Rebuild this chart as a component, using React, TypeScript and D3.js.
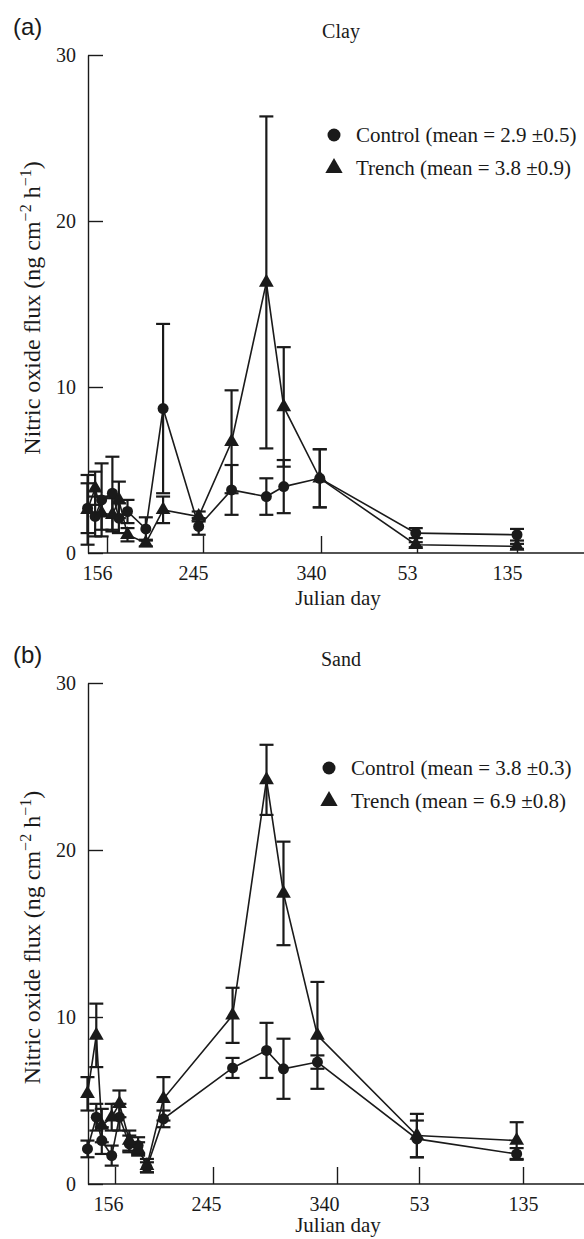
import React, { useRef, useEffect } from "react";
import * as d3 from "d3";

// julian days on the x axis, 53 and 135 are in the following year (418, 500)
const tickDays = [156, 245, 340, 418, 500];
const tickLabels = ["156", "245", "340", "53", "135"];
const yTicks = [0, 10, 20, 30];

const clayDays = [138, 145, 151, 161, 167, 175, 192, 208, 241, 268, 296, 310, 339, 417, 500];
const clayControl = [2.7, 2.2, 3.2, 3.6, 2.1, 2.5, 1.45, 8.7, 1.6, 3.8, 3.4, 4.0, 4.5, 1.2, 1.1];
const clayControlErr = [1.5, 1.2, 2.2, 2.2, 0.9, 0.7, 0.7, 5.1, 0.5, 1.5, 1.1, 1.6, 1.75, 0.3, 0.35];
const clayTrench = [2.6, 3.9, 2.4, 2.3, 3.2, 1.1, 0.6, 2.6, 2.2, 6.7, 16.3, 8.8, 4.5, 0.5, 0.4];
const clayTrenchErr = [2.1, 1.0, 1.0, 1.0, 1.1, 0.4, 0.2, 0.8, 0.3, 3.1, 10.0, 3.6, 1.75, 0.15, 0.15];

const sandDays = [131, 139, 144, 153, 160, 169, 177, 185, 200, 260, 286, 299, 325, 416, 495];
const sandControl = [2.1, 4.0, 2.6, 1.7, 4.0, 2.4, 2.3, 1.0, 3.9, 6.95, 8.0, 6.9, 7.3, 2.7, 1.8];
const sandControlErr = [0.5, 0.8, 0.8, 0.6, 0.8, 0.5, 0.5, 0.3, 0.5, 0.6, 1.65, 1.8, 0.4, 1.1, 0.35];
const sandTrench = [5.4, 8.9, 3.5, 4.0, 4.8, 2.6, 2.1, 1.1, 5.1, 10.1, 24.2, 17.4, 8.9, 2.9, 2.6];
const sandTrenchErr = [1.0, 1.9, 1.0, 0.8, 0.8, 0.6, 0.4, 0.4, 1.3, 1.65, 2.1, 3.1, 3.2, 1.3, 1.1];

const clayLegend = ["Control (mean = 2.9 \u00b10.5)", "Trench (mean = 3.8 \u00b10.9)"];
const sandLegend = ["Control (mean = 3.8 \u00b10.3)", "Trench (mean = 6.9 \u00b10.8)"];

const W = 584;
const H = 1239;
const INK = "#1a1a1a";
const SERIF = "Liberation Serif, Times New Roman, Times, serif";
const SANS = "Liberation Sans, Arial, Helvetica, sans-serif";

const panels = [
  {
    letter: "(a)",
    title: "Clay",
    top: 55,
    bottom: 553,
    tickPx: [107, 203, 321, 417, 517],
    labelDx: [-10, -10, -10, -10, -10],
    legendY: 135,
    legendX: 334,
    days: clayDays,
    control: clayControl,
    controlErr: clayControlErr,
    trench: clayTrench,
    trenchErr: clayTrenchErr,
    legend: clayLegend,
  },
  {
    letter: "(b)",
    title: "Sand",
    top: 683,
    bottom: 1184,
    tickPx: [115, 213, 337, 419, 523],
    labelDx: [-7, -7, -13, 0, 0],
    legendY: 768,
    legendX: 329,
    days: sandDays,
    control: sandControl,
    controlErr: sandControlErr,
    trench: sandTrench,
    trenchErr: sandTrenchErr,
    legend: sandLegend,
  },
];

const left = 88;

const App = () => {
  const svgRef = useRef<SVGSVGElement>(null);

  useEffect(() => {
    const svg = d3.select(svgRef.current);
    svg.selectAll("*").remove();

    panels.forEach((p, pi) => {
      const g = svg.append("g");
      const x = d3.scaleLinear().domain(tickDays).range(p.tickPx);
      const y = d3.scaleLinear().domain([0, 30]).range([p.bottom, p.top]);

      // panel letter + title
      g.append("text")
        .attr("x", 13)
        .attr("y", p.top - 20)
        .style("font-family", SANS)
        .style("font-size", "24px")
        .attr("fill", INK)
        .text(p.letter);
      g.append("text")
        .attr("x", 341)
        .attr("y", p.top - 17)
        .attr("text-anchor", "middle")
        .style("font-family", SERIF)
        .style("font-size", "20px")
        .attr("fill", INK)
        .text(p.title);

      // y axis
      const yAxis = g
        .append("g")
        .attr("transform", `translate(${left},0)`)
        .call(d3.axisLeft(y).tickValues(yTicks).tickSize(-15).tickSizeOuter(0).tickPadding(12));
      yAxis.attr("color", INK);
      yAxis.selectAll("text").style("font-family", SERIF).style("font-size", "20px");
      yAxis.selectAll("line, path").attr("stroke-width", 1.4);

      // x axis
      const xAxis = g
        .append("g")
        .attr("transform", `translate(0,${p.bottom})`)
        .call(
          d3
            .axisBottom(x)
            .tickValues(tickDays)
            .tickFormat((d, i) => tickLabels[i])
            .tickSize(-17)
            .tickPadding(13)
        );
      xAxis.attr("color", INK);
      xAxis.select(".domain").remove();
      xAxis.selectAll("line").attr("stroke-width", 1.4);
      xAxis
        .selectAll(".tick text")
        .style("font-family", SERIF)
        .style("font-size", "20px")
        .attr("dx", (d, i) => p.labelDx[i]);
      g.append("line")
        .attr("x1", left)
        .attr("x2", W)
        .attr("y1", p.bottom)
        .attr("y2", p.bottom)
        .attr("stroke", INK)
        .attr("stroke-width", 1.4);

      g.append("text")
        .attr("x", 338)
        .attr("y", p.bottom + (pi === 0 ? 52 : 48))
        .attr("text-anchor", "middle")
        .style("font-family", SERIF)
        .style("font-size", "21px")
        .attr("fill", INK)
        .text("Julian day");

      // y axis title
      const yt = g
        .append("text")
        .attr("transform", `translate(40,${(p.top + p.bottom) / 2 + 4}) rotate(-90)`)
        .attr("text-anchor", "middle")
        .style("font-family", SERIF)
        .style("font-size", "24px")
        .attr("fill", INK);
      yt.append("tspan").text("Nitric oxide flux (ng cm");
      yt.append("tspan").attr("dy", -9).style("font-size", "16px").text("\u22122");
      yt.append("tspan").attr("dy", 9).text(" h");
      yt.append("tspan").attr("dy", -9).style("font-size", "16px").text("\u22121");
      yt.append("tspan").attr("dy", 9).text(")");

      const series = [
        { vals: p.control, err: p.controlErr, shape: "circle" },
        { vals: p.trench, err: p.trenchErr, shape: "triangle" },
      ];

      // error bars
      series.forEach((s) => {
        const eb = g.append("g").attr("stroke", INK).attr("stroke-width", 2.2);
        p.days.forEach((d, i) => {
          const cx = x(d);
          const hi = y(s.vals[i] + s.err[i]);
          const lo = y(Math.max(0, s.vals[i] - s.err[i]));
          eb.append("line").attr("x1", cx).attr("x2", cx).attr("y1", hi).attr("y2", lo);
          eb.append("line").attr("x1", cx - 7).attr("x2", cx + 7).attr("y1", hi).attr("y2", hi);
          eb.append("line").attr("x1", cx - 7).attr("x2", cx + 7).attr("y1", lo).attr("y2", lo);
        });
      });

      // lines
      series.forEach((s) => {
        const line = d3
          .line<number>()
          .x((d, i) => x(p.days[i]))
          .y((d) => y(d));
        g.append("path")
          .attr("d", line(s.vals))
          .attr("fill", "none")
          .attr("stroke", INK)
          .attr("stroke-width", 1.6);
      });

      // markers
      series.forEach((s) => {
        p.days.forEach((d, i) => {
          if (s.shape === "circle") {
            g.append("circle").attr("cx", x(d)).attr("cy", y(s.vals[i])).attr("r", 5.5).attr("fill", INK);
          } else {
            g.append("path")
              .attr("d", d3.symbol(d3.symbolTriangle, 95)())
              .attr("transform", `translate(${x(d)},${y(s.vals[i])})`)
              .attr("fill", INK);
          }
        });
      });

      // legend
      const lg = g.append("g").attr("fill", INK);
      lg.append("circle").attr("cx", p.legendX).attr("cy", p.legendY).attr("r", 6.5);
      lg.append("path")
        .attr("d", d3.symbol(d3.symbolTriangle, 130)())
        .attr("transform", `translate(${p.legendX},${p.legendY + 33})`);
      p.legend.forEach((t, i) => {
        lg.append("text")
          .attr("x", p.legendX + 22)
          .attr("y", p.legendY + i * 33 + 7)
          .style("font-family", SERIF)
          .style("font-size", "21px")
          .text(t);
      });
    });
  }, []);

  return (
    <svg
      ref={svgRef}
      width={W}
      height={H}
      style={{ position: "absolute", left: 0, top: 0, background: "#fff" }}
    />
  );
};

export default App;
